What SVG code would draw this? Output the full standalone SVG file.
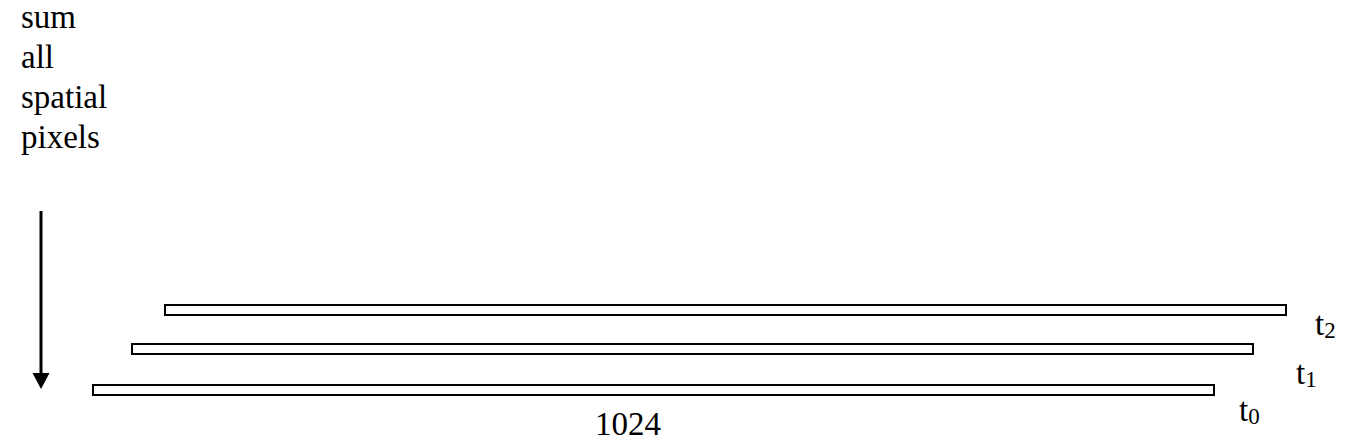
<svg xmlns="http://www.w3.org/2000/svg" width="1348" height="446" viewBox="0 0 1348 446">
<defs>
<style>
text{font-family:"Liberation Serif","Times New Roman",serif;fill:#000;font-size:33px}
.bar{fill:#fff;stroke:#000;stroke-width:2}
.sub{font-size:23px}
</style>
<marker id="ah" markerWidth="17" markerHeight="17" refX="8.5" refY="16" orient="auto-start-reverse" markerUnits="userSpaceOnUse" viewBox="0 0 17 17">
<path d="M0,0 L17,0 L8.5,16 Z" fill="#000"/>
</marker>
</defs>
<rect width="1348" height="446" fill="#fff"/>
<g id="label-left">
<text x="21" y="28">sum</text>
<text x="21" y="68">all</text>
<text x="21" y="108">spatial</text>
<text x="21" y="148">pixels</text>
</g>
<g id="connectors">
<line x1="41" y1="211" x2="41" y2="373" stroke="#000" stroke-width="3"/>
<path d="M32.5,373 L49.5,373 L41,389 Z" fill="#000"/>
</g>
<g id="t2">
<rect class="bar" x="165" y="305" width="1121" height="10"/>
<text x="1315" y="335">t<tspan class="sub" dy="3">2</tspan></text>
</g>
<g id="t1">
<rect class="bar" x="132" y="344" width="1121" height="10"/>
<text x="1296" y="384">t<tspan class="sub" dy="3">1</tspan></text>
</g>
<g id="t0">
<rect class="bar" x="93" y="385" width="1121" height="10"/>
<text x="1239" y="421">t<tspan class="sub" dy="3">0</tspan></text>
</g>
<g id="label-1024">
<text x="595" y="435">1024</text>
</g>
</svg>
